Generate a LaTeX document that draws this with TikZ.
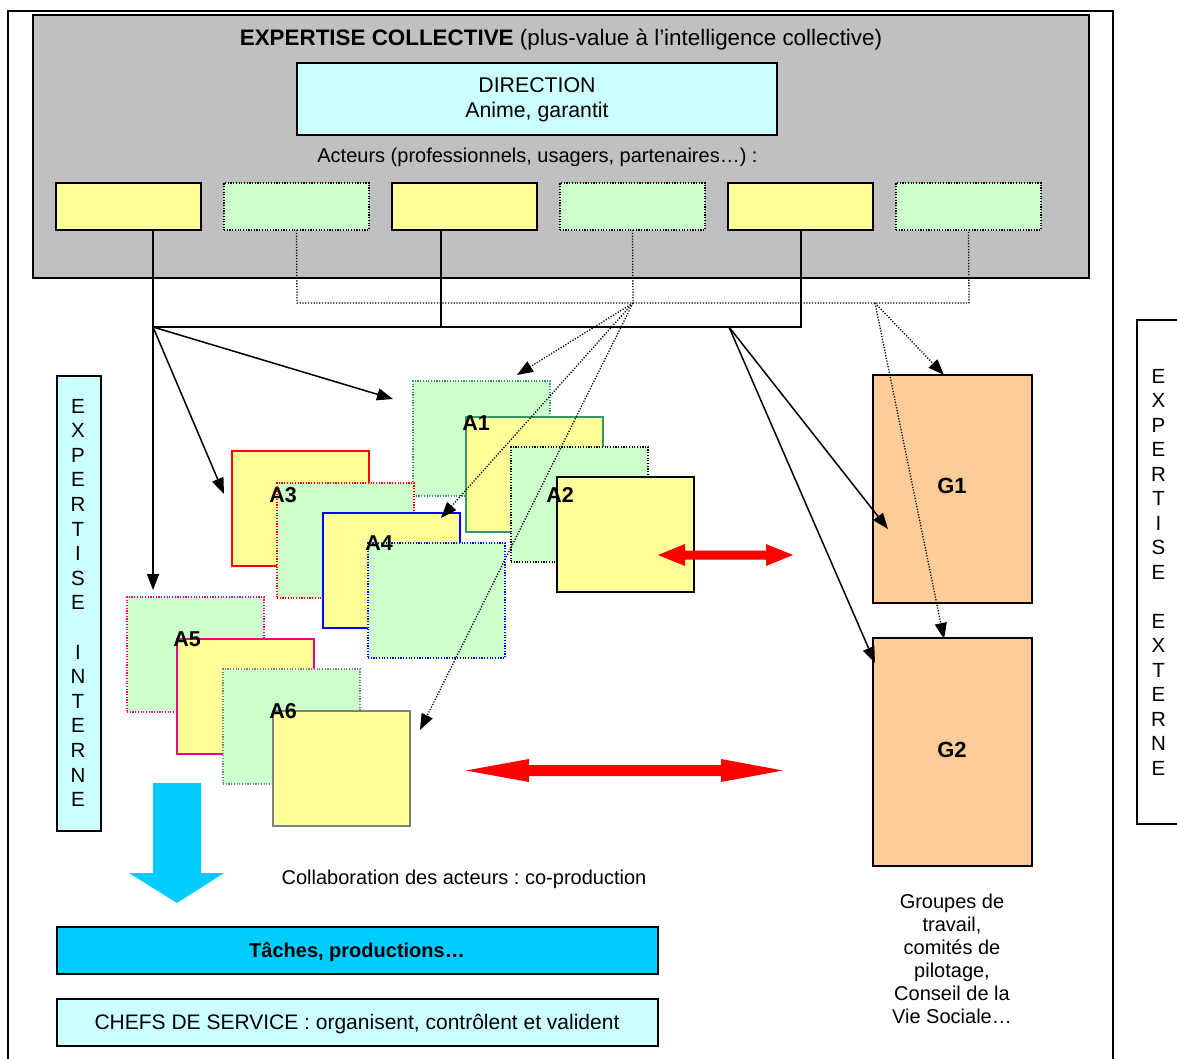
\documentclass[tikz,border=0pt]{standalone}
\usepackage{fontspec}
\setmainfont{Liberation Sans}
\usetikzlibrary{arrows.meta}
\definecolor{boxgray}{HTML}{C0C0C0}
\definecolor{lcyan}{HTML}{CCFFFF}
\definecolor{lyellow}{HTML}{FFFF99}
\definecolor{lgreen}{HTML}{CCFFCC}
\definecolor{peach}{HTML}{FFCC99}
\definecolor{skyb}{HTML}{00CCFF}
\definecolor{seag}{HTML}{339966}
\definecolor{midgray}{HTML}{808080}
\newcommand{\myfs}[1]{\fontsize{#1}{#1}\selectfont}
\frenchspacing
\begin{document}
\begin{tikzpicture}[x=1pt,y=-1pt,
  box/.style={rectangle, draw, inner sep=0pt, outer sep=0pt, anchor=north west},
  actorbox/.style={box, minimum width=145pt, minimum height=47pt},
  sq/.style={box, minimum width=137pt, minimum height=115pt},
  solidb/.style={line width=1.6pt},
  dotb/.style={line width=1.3pt, dash pattern=on 1.2pt off 1.5pt},
  txt/.style={inner sep=0pt, outer sep=0pt, anchor=base},
  conn/.style={line width=1.5pt},
  dotl/.style={line width=1.3pt, dash pattern=on 1.2pt off 1.6pt},
  tip/.style={-{Triangle[length=16pt,width=12pt]}}]
\useasboundingbox (0,0) rectangle (1177,1059);
\clip (0,0) rectangle (1177,1059);
\fill[white] (0,0) rectangle (1177,1059);

% outer frame
\draw[line width=1.5pt] (8,1075) -- (8,11) -- (1113,11) -- (1113,1075);

% collective expertise
\node[box, minimum width=1056pt, minimum height=263pt, fill=boxgray, line width=2pt] (gray) at (33,15) {};
\node[txt, font=\myfs{22.4}] (title) at (561,46) {\textbf{EXPERTISE COLLECTIVE} (plus-value à l’intelligence collective)};
\node[box, minimum width=480pt, minimum height=72pt, fill=lcyan, line width=2pt] (dir) at (297,63) {};
\node[txt, font=\myfs{21.3}] (dirt1) at (537,93) {DIRECTION};
\node[txt, font=\myfs{21.3}] (dirt2) at (537,118) {Anime, garantit};
\node[txt, font=\myfs{20}] (act) at (537.5,163) {Acteurs (professionnels, usagers, partenaires…) :};

\node[actorbox, fill=lyellow, line width=2pt] (ac1) at (56,183) {};
\node[actorbox, fill=lgreen, dotb] (ac2) at (224,183) {};
\node[actorbox, fill=lyellow, line width=2pt] (ac3) at (392,183) {};
\node[actorbox, fill=lgreen, dotb] (ac4) at (560,183) {};
\node[actorbox, fill=lyellow, line width=2pt] (ac5) at (728,183) {};
\node[actorbox, fill=lgreen, dotb] (ac6) at (896,183) {};

% side boxes
\node[box, minimum width=44pt, minimum height=455pt, fill=lcyan, line width=2pt] (intbox) at (57,376) {};
\foreach \ch [count=\i from 0] in {E,X,P,E,R,T,I,S,E,{},I,N,T,E,R,N,E}
  \node[txt, font=\myfs{20.5}] (li\i) at (78,413+24.6*\i) {\ch};
\node[box, minimum width=70pt, minimum height=504pt, fill=white, line width=2pt] (extbox) at (1137,320) {};
\foreach \ch [count=\i from 0] in {E,X,P,E,R,T,I,S,E,{},E,X,T,E,R,N,E}
  \node[txt, font=\myfs{20.5}] (ri\i) at (1158.5,383+24.5*\i) {\ch};

% groups
\node[box, minimum width=159pt, minimum height=228pt, fill=peach, line width=2pt] (g1) at (873,375) {};
\node[box, minimum width=159pt, minimum height=228pt, fill=peach, line width=2pt] (g2) at (873,638) {};
\node[txt, font=\myfs{22}\bfseries] (g1t) at (952,493) {G1};
\node[txt, font=\myfs{22}\bfseries] (g2t) at (952,757) {G2};
\foreach \l [count=\i from 0] in {Groupes de,{travail,},comités de,{pilotage,},Conseil de la,Vie Sociale…}
  \node[txt, font=\myfs{20}] (gr\i) at (952,908+23*\i) {\l};

% squares A1 / A2
\node[sq, fill=lgreen, draw=seag, dotb] (a1g) at (413,381) {};
\node[sq, fill=lyellow, draw=seag, solidb] (a1y) at (466,417) {};
\node[sq, fill=lgreen, draw=black, dotb] (a2g) at (511,447) {};
\node[sq, fill=lyellow, draw=black, line width=2pt] (a2y) at (557,477) {};
% squares A3 / A4
\node[sq, fill=lyellow, draw=red, solidb] (a3y) at (232,451) {};
\node[sq, fill=lgreen, draw=red, dotb] (a3g) at (277,483) {};
\node[sq, fill=lyellow, draw=blue, solidb] (a4y) at (323,513) {};
\node[sq, fill=lgreen, draw=blue, dotb] (a4g) at (368,543) {};
% squares A5 / A6
\node[sq, fill=lgreen, draw=magenta, dotb] (a5g) at (127,597) {};
\node[sq, fill=lyellow, draw=magenta, solidb] (a5y) at (177,639) {};
\node[sq, fill=lgreen, draw=midgray, dotb] (a6g) at (223,669) {};
\node[sq, fill=lyellow, draw=midgray, line width=2pt] (a6y) at (273,711) {};

\node[txt, font=\myfs{21.5}\bfseries] (l1) at (476,430) {A1};
\node[txt, font=\myfs{21.5}\bfseries] (l2) at (560,502) {A2};
\node[txt, font=\myfs{21.5}\bfseries] (l3) at (283,502) {A3};
\node[txt, font=\myfs{21.5}\bfseries] (l4) at (379,550) {A4};
\node[txt, font=\myfs{21.5}\bfseries] (l5) at (187,646) {A5};
\node[txt, font=\myfs{21.5}\bfseries] (l6) at (283,718) {A6};

% junction coordinates
\coordinate (jL) at (153,327);
\coordinate (j3) at (441,327);
\coordinate (jR) at (801,327);
\coordinate (jM) at (729,327);
\coordinate (dL) at (297,303);
\coordinate (dA) at (633,303);
\coordinate (dG) at (875,303);
\coordinate (dR) at (969,303);
% arrow targets
\coordinate (tA1) at (393,399);
\coordinate (tA3) at (224,494);
\coordinate (tA5) at (153,590);
\coordinate (tG1) at (888,529);
\coordinate (tG2) at (875,663);
\coordinate (uA1) at (517,375);
\coordinate (uA4) at (441,518);
\coordinate (uA6) at (420,730);
\coordinate (uG1) at (944,375);
\coordinate (uG2) at (944,639);

% solid connectors
\draw[conn] (ac1.south -| jL) -- (jL) -- (jR) -- (ac5.south -| jR);
\draw[conn] (ac3.south -| j3) -- (j3);
\draw[conn, tip] (jL) -- (tA1);
\draw[conn, tip] (jL) -- (tA3);
\draw[conn, tip] (jL) -- (tA5);
\draw[conn, tip] (jM) -- (tG1);
\draw[conn, tip] (jM) -- (tG2);

% dotted connectors
\draw[dotl] (ac2.south) -- (dL) -- (dR) -- (ac6.south);
\draw[dotl] (ac4.south) -- (dA);
\draw[dotl, tip] (dA) -- (uA1);
\draw[dotl, tip] (dA) -- (uA4);
\draw[dotl, tip] (dA) -- (uA6);
\draw[dotl, tip] (dG) -- (uG1);
\draw[dotl, tip] (dG) -- (uG2);

% red double arrows
\fill[red] (658,555) -- (685,544) -- (685,550.5) -- (766,550.5) -- (766,544) -- (793,555)
  -- (766,566) -- (766,559.5) -- (685,559.5) -- (685,566) -- cycle;
\fill[red] (466,770.5) -- (529,759) -- (529,765) -- (721,765) -- (721,759) -- (783,770.5)
  -- (721,782) -- (721,776) -- (529,776) -- (529,782) -- cycle;

% blue arrow
\fill[skyb] (153,783) -- (201,783) -- (201,873) -- (224,873) -- (177,903) -- (129,873) -- (153,873) -- cycle;

\node[txt, font=\myfs{20}] (collab) at (464,884) {Collaboration des acteurs : co-production};

% bottom boxes
\node[box, minimum width=601pt, minimum height=47pt, fill=skyb, line width=2pt] (taches) at (57,927) {};
\node[txt, font=\myfs{20}\bfseries] (tachest) at (357,957) {Tâches, productions…};
\node[box, minimum width=601pt, minimum height=47pt, fill=lcyan, line width=2pt] (chefs) at (57,999) {};
\node[txt, font=\myfs{21}] (chefst) at (357,1029) {CHEFS DE SERVICE : organisent, contrôlent et valident};
\end{tikzpicture}
\end{document}
